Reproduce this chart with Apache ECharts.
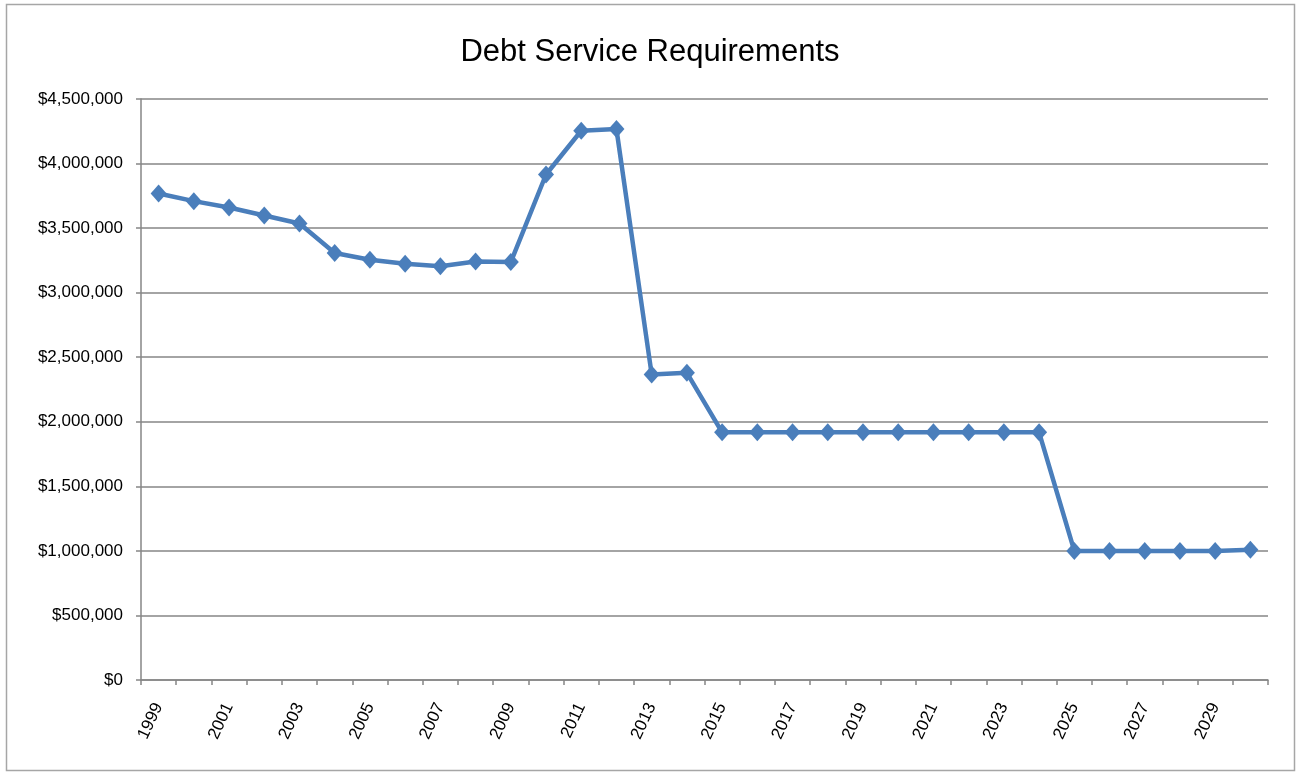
<!DOCTYPE html>
<html>
<head>
<meta charset="utf-8">
<title>Debt Service Requirements</title>
<script src="https://cdn.jsdelivr.net/npm/echarts@6/dist/echarts.min.js"></script>
<style>
  html, body { margin: 0; padding: 0; background: #ffffff; }
  #chart { width: 1300px; height: 775px; }
</style>
</head>
<body>
<div id="chart"></div>
<script>
// Fiscal years shown on the category axis
const years = [
  '1999','2000','2001','2002','2003','2004','2005','2006','2007','2008',
  '2009','2010','2011','2012','2013','2014','2015','2016','2017','2018',
  '2019','2020','2021','2022','2023','2024','2025','2026','2027','2028',
  '2029','2030'
];

// Annual debt service requirement, in dollars
const debtService = [
  3768000, 3709000, 3660000, 3598000, 3536000, 3307000, 3255000, 3224000, 3204000, 3242000,
  3237000, 3915000, 4254000, 4267000, 2366000, 2379000, 1918000, 1918000, 1918000, 1918000,
  1918000, 1918000, 1918000, 1918000, 1918000, 1918000, 1000000, 1000000, 1000000, 1000000,
  1000000, 1008000
];

const yMin = 0;
const yMax = 4500000;
const yStep = 500000;

const gray = '#868686';
const font = '"Liberation Sans", Arial, sans-serif';

function dollars(v) {
  return '$' + Math.round(v).toLocaleString('en-US');
}

const chart = echarts.init(document.getElementById('chart'), null, { renderer: 'canvas' });

chart.setOption({
  animation: false,
  backgroundColor: '#ffffff',
  graphic: [{
    type: 'rect',
    shape: { x: 6.5, y: 4.5, width: 1288, height: 766 },
    style: { fill: 'none', stroke: '#a6a6a6', lineWidth: 1.5 },
    silent: true,
    z: -1
  }],
  title: {
    text: 'Debt Service Requirements',
    left: 'center',
    top: 32,
    textStyle: { fontFamily: font, fontSize: 31, fontWeight: 'normal', color: '#000000' }
  },
  grid: { left: 141, right: 32, top: 99, bottom: 95, containLabel: false },
  xAxis: {
    type: 'category',
    data: years,
    boundaryGap: true,
    axisLine: { show: true, lineStyle: { color: gray, width: 1.5 } },
    axisTick: { show: true, interval: 0, length: 5, lineStyle: { color: gray, width: 1.5 } },
    axisLabel: {
      interval: 1,
      rotate: 65,
      margin: 24,
      fontFamily: font,
      fontSize: 17,
      color: '#000000'
    },
    splitLine: { show: false }
  },
  yAxis: {
    type: 'value',
    min: yMin,
    max: yMax,
    interval: yStep,
    axisLine: { show: true, lineStyle: { color: gray, width: 1.5 } },
    axisTick: { show: true, length: 5, lineStyle: { color: gray, width: 1.5 } },
    axisLabel: {
      margin: 18,
      fontFamily: font,
      fontSize: 17,
      color: '#000000',
      formatter: dollars
    },
    splitLine: { show: true, lineStyle: { color: gray, width: 1.5 } }
  },
  series: [{
    name: 'Debt Service',
    type: 'line',
    data: debtService,
    symbol: 'diamond',
    symbolSize: [16, 18],
    showAllSymbol: true,
    lineStyle: { color: '#4a7ebb', width: 4.5 },
    itemStyle: { color: '#4a7ebb' },
    emphasis: { disabled: true }
  }]
});
</script>
</body>
</html>
